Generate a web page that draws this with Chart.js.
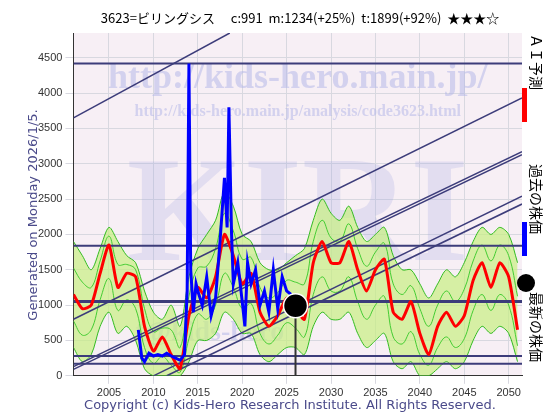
<!DOCTYPE html>
<html><head><meta charset="utf-8">
<script src="https://cdn.jsdelivr.net/npm/chart.js@4"></script>
<style>body{margin:0;background:#fff}#wrap{width:560px;height:420px;position:relative}</style>
</head><body><div id="wrap"><canvas id="c" width="560" height="420"></canvas></div>
<script>
const title = '3623=ビリングシス　 c:991  m:1234(+25%)  t:1899(+92%)  ★★★☆';
const years = [2001,2002,2003,2004,2005,2006,2007,2008,2009,2010,2011,2012,2013,2014,2015,2016,2017,2018,2019,2020,2021,2022,2023,2024,2025,2026,2027,2028,2029,2030,2031,2032,2033,2034,2035,2036,2037,2038,2039,2040,2041,2042,2043,2044,2045,2046,2047,2048,2049,2050,2051];
const aiForecast = [1150,950,1000,1450,1850,1250,1450,1400,700,350,550,300,100,850,1250,1100,1400,2000,1700,1300,1450,900,700,850,1100,950,800,1600,1900,1600,1600,1900,1500,1200,1500,1650,900,800,1050,600,300,700,900,700,850,1350,1600,1250,1600,1400,650];
const bandHigh = [1900,1700,1500,1800,2100,1900,1700,1600,1200,900,800,1000,700,1400,1800,2000,2200,2600,2400,2000,1900,1600,1500,1500,1600,1700,1800,2200,2500,2300,2200,2400,2100,1900,2000,2100,1700,1500,1500,1300,1100,1300,1500,1400,1600,1900,2100,2000,2100,2000,1600];
const bandLow = [400,200,300,700,900,600,700,500,100,0,0,0,0,200,500,500,600,900,800,600,600,300,200,300,400,400,300,700,900,800,800,900,600,400,500,600,200,100,200,0,0,100,200,100,200,500,700,600,700,600,200];
const pastX = [2008.3,2008.7,2009,2009.5,2010,2010.5,2011,2011.5,2012,2012.5,2013,2013.5,2013.8,2014,2014.2,2014.5,2014.8,2015,2015.5,2016,2016.5,2017,2017.5,2018,2018.3,2018.5,2018.8,2019,2019.5,2020,2020.3,2020.6,2021,2021.5,2022,2022.5,2023,2023.5,2024,2024.5,2025,2025.5];
const pastY = [650,250,200,320,280,300,280,320,280,250,220,300,1200,4420,1500,900,1300,1200,1000,1400,850,1100,1900,2800,2100,3800,2000,1300,1600,1050,700,1600,1300,1500,1000,1200,900,1500,950,1400,1200,1150];
const latest = {x: 2026, y: 991};
const levels = [4420, 1840, 1050, 280, 170];
const trends = [[2001,3650,2018.6,4850],[2001,800,2051.5,3930],[2001,90,2051.5,3130],[2001,130,2051.5,3170],[2010,0,2051.5,2540],[2011.5,0,2051.5,2430]];

const ds = [];
ds.push({order:90, data: years.map((y,i)=>({x:y,y:bandHigh[i]})), borderColor:'#33bb22', borderWidth:1, backgroundColor:'rgba(200,240,130,0.7)', fill:'+1', pointRadius:0, tension:0.3});
ds.push({order:89, data: years.map((y,i)=>({x:y,y:bandLow[i]})), borderColor:'#33bb22', borderWidth:1, fill:false, pointRadius:0, tension:0.3});
ds.push({order:88, data: years.map((y,i)=>({x:y,y:(bandHigh[i]+aiForecast[i])/2})), borderColor:'#44cc33', borderWidth:1, fill:false, pointRadius:0, tension:0.4});
ds.push({order:87, data: years.map((y,i)=>({x:y,y:(bandLow[i]+aiForecast[i])/2})), borderColor:'#44cc33', borderWidth:1, fill:false, pointRadius:0, tension:0.4});
levels.forEach(v=>ds.push({order:50, data:[{x:2001,y:v},{x:2051.5,y:v}], borderColor:'#3c3c7a', borderWidth:(v===1050?3:2), pointRadius:0}));
trends.forEach(t=>ds.push({order:50, data:[{x:t[0],y:t[1]},{x:t[2],y:t[3]}], borderColor:'#3c3c7a', borderWidth:1.5, pointRadius:0}));
ds.push({order:4, data: years.map((y,i)=>({x:y,y:aiForecast[i]})), borderColor:'#ff0000', borderWidth:3, pointRadius:0, tension:0.2});
ds.push({order:3, data: pastX.map((x,i)=>({x:x,y:pastY[i]})), borderColor:'#0000ff', borderWidth:3, pointRadius:0});
ds.push({order:2, data:[{x:latest.x,y:0},{x:latest.x,y:latest.y}], borderColor:'#333', borderWidth:2, pointRadius:0});
ds.push({order:1, data:[latest], pointRadius:12, pointBackgroundColor:'#000', pointBorderColor:'#fff', pointBorderWidth:1.5, showLine:false});

const decor = {
  id:'decor',
  beforeDatasetsDraw(chart){
    const {ctx, chartArea:a} = chart;
    ctx.save();
    ctx.textAlign='center';
    ctx.globalAlpha=0.22; ctx.fillStyle='#9aa0e0';
    ctx.font='bold 150px "Liberation Serif"';
    ctx.fillText('KIRI', (a.left+a.right)/2, 260);
    ctx.globalAlpha=0.5; ctx.fillStyle='#b0b4e8';
    ctx.font='bold 36px "Liberation Serif"'; ctx.fillText('http://kids-hero.main.jp/', (a.left+a.right)/2, 88);
    ctx.font='bold 16px "Liberation Serif"'; ctx.fillText('http://kids-hero.main.jp/analysis/code3623.html', (a.left+a.right)/2, 116);
    ctx.font='bold 28px "Liberation Serif"'; ctx.fillText('f@kids-hero', 210, 340);
    ctx.restore();
  },
  afterDraw(chart){
    const ctx = chart.ctx;
    ctx.save();
    ctx.fillStyle='#000'; ctx.font='13px "Noto Sans CJK JP"'; ctx.textAlign='center';
    ctx.fillText(title, 300, 23);
    ctx.fillStyle='#4a4a8a'; ctx.font='13px "DejaVu Sans"';
    ctx.fillText('Copyright (c) Kids-Hero Research Institute. All Rights Reserved.', 290, 409);
    ctx.translate(37,215); ctx.rotate(-Math.PI/2);
    ctx.fillText('Generated on Monday 2026/1/5.', 0, 0);
    ctx.restore();
    ctx.save();
    ctx.translate(531,34); ctx.rotate(Math.PI/2);
    ctx.font='14px "Noto Sans CJK JP"'; ctx.fillStyle='#000'; ctx.textAlign='left';
    ctx.fillText('ＡＩ予測', 0, 0);
    ctx.fillText('過去の株価', 130, 0);
    ctx.fillText('最新の株価', 258, 0);
    ctx.restore();
    ctx.fillStyle='#ff0000'; ctx.fillRect(522,88,5,34);
    ctx.fillStyle='#0000ff'; ctx.fillRect(522,222,5,34);
    ctx.fillStyle='#000'; ctx.beginPath(); ctx.arc(526,283,9,0,Math.PI*2); ctx.fill();
  }
};
const bg = {id:'bg', beforeDraw(chart){const {ctx,chartArea:a}=chart; ctx.fillStyle='#f7eff5'; ctx.fillRect(a.left,a.top,a.width,a.height);}};

new Chart(document.getElementById('c'), {
  type:'line',
  data:{datasets:ds},
  options:{
    responsive:false, animation:false,
    layout:{padding:{top:33,right:38,bottom:17,left:35}},
    plugins:{legend:{display:false}, tooltip:{enabled:false}},
    scales:{
      x:{type:'linear', min:2001, max:2051.5, grid:{color:'#d8d8e0'}, border:{color:'#333'},
         afterBuildTicks(s){s.ticks=[2005,2010,2015,2020,2025,2030,2035,2040,2045,2050].map(v=>({value:v}));},
         ticks:{color:'#333', font:{size:11}, callback:v=>String(v)}},
      y:{min:0, max:4850, grid:{color:'#d8d8e0'}, border:{color:'#333'},
         afterBuildTicks(s){s.ticks=[0,500,1000,1500,2000,2500,3000,3500,4000,4500].map(v=>({value:v}));},
         ticks:{color:'#333', font:{size:11}, callback:v=>String(v)}}
    }
  },
  plugins:[bg, decor]
});
</script></body></html>
